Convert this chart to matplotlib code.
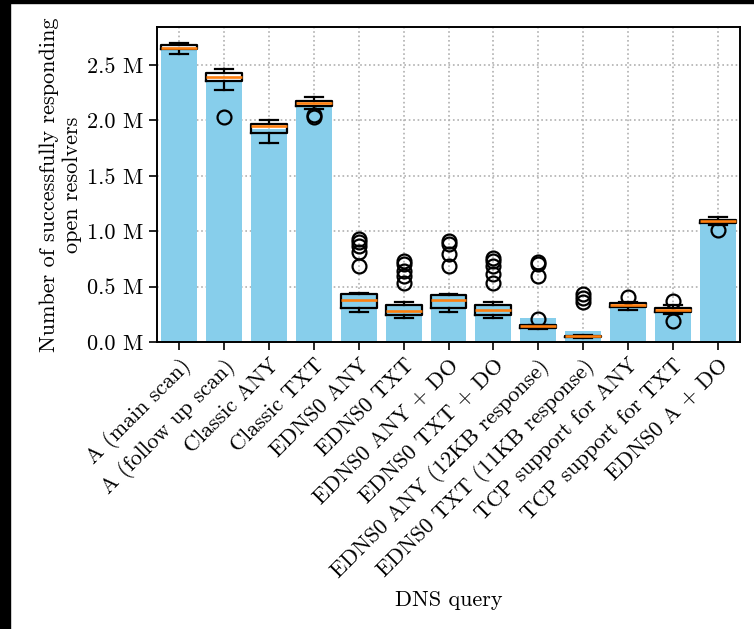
import matplotlib
matplotlib.use("Agg")
import matplotlib.pyplot as plt
from matplotlib.patches import Rectangle
from matplotlib.ticker import FuncFormatter, MultipleLocator

plt.rcParams["font.family"] = "cmr10"
plt.rcParams["mathtext.fontset"] = "cm"
plt.rcParams["axes.unicode_minus"] = False
plt.rcParams["axes.formatter.use_mathtext"] = True

# Queries and response counts (millions of open resolvers)
queries = [
    "A (main scan)", "A (follow up scan)", "Classic ANY", "Classic TXT",
    "EDNS0 ANY", "EDNS0 TXT", "EDNS0 ANY + DO", "EDNS0 TXT + DO",
    "EDNS0 ANY (12KB response)", "EDNS0 TXT (11KB response)",
    "TCP support for ANY", "TCP support for TXT", "EDNS0 A + DO",
]
mean_resp = [2.645, 2.355, 1.92, 2.13, 0.43, 0.33, 0.42, 0.33,
             0.216, 0.099, 0.32, 0.278, 1.081]
median_resp = [2.657, 2.393, 1.95, 2.153, 0.383, 0.281, 0.383, 0.287,
               0.141, 0.05, 0.332, 0.287, 1.09]
q1_resp = [2.64, 2.357, 1.886, 2.129, 0.311, 0.245, 0.311, 0.245,
           0.125, 0.042, 0.317, 0.272, 1.075]
q3_resp = [2.68, 2.43, 1.968, 2.174, 0.431, 0.335, 0.425, 0.332,
           0.152, 0.058, 0.35, 0.305, 1.105]
whisker_lo = [2.597, 2.273, 1.80, 2.10, 0.272, 0.213, 0.27, 0.213,
              0.12, 0.04, 0.29, 0.25, 1.06]
whisker_hi = [2.70, 2.462, 2.004, 2.213, 0.446, 0.357, 0.437, 0.357,
              0.155, 0.06, 0.362, 0.332, 1.126]
outliers = [
    [],
    [2.028],
    [],
    [2.05, 2.03],
    [0.93, 0.90, 0.87, 0.81, 0.69],
    [0.73, 0.707, 0.64, 0.596, 0.536],
    [0.91, 0.887, 0.79, 0.686],
    [0.76, 0.73, 0.686, 0.611, 0.536],
    [0.72, 0.70, 0.596, 0.207],
    [0.43, 0.40, 0.36],
    [0.41],
    [0.371, 0.189],
    [1.009],
]

W, H, DPI = 754, 629, 100
fig = plt.figure(figsize=(W / DPI, H / DPI), dpi=DPI)
ax = fig.add_axes([157 / W, 1 - 342 / H, (740 - 157) / W, (342 - 27) / H])

pos = list(range(len(queries)))
ax.bar(pos, mean_resp, width=0.8, color="skyblue", zorder=2)

stats = []
for i in pos:
    stats.append(dict(med=median_resp[i], q1=q1_resp[i], q3=q3_resp[i],
                      whislo=whisker_lo[i], whishi=whisker_hi[i],
                      fliers=outliers[i]))
lw = 1.6
ax.bxp(stats, positions=pos, widths=0.8, showfliers=True,
       boxprops=dict(color="black", linewidth=lw),
       whiskerprops=dict(color="black", linewidth=lw),
       capprops=dict(color="black", linewidth=lw),
       medianprops=dict(color="#ff7f0e", linewidth=1.9),
       flierprops=dict(marker="o", markersize=10, markerfacecolor="none",
                       markeredgecolor="black", markeredgewidth=1.6),
       manage_ticks=False, zorder=3)

ax.set_xlim(-0.5, len(queries) - 0.5)
ax.set_ylim(0, 2.843)
ax.yaxis.set_major_locator(MultipleLocator(0.5))
ax.yaxis.set_major_formatter(FuncFormatter(lambda v, p: f"{v:.1f} M"))
ax.set_xticks(pos)
ax.set_xticklabels(queries, rotation=45, ha="right", rotation_mode="anchor")

ax.set_axisbelow(True)
ax.grid(True, linestyle=":", color="#b0b0b0", linewidth=1.2)
for s in ax.spines.values():
    s.set_linewidth(1.4)
ax.tick_params(axis="both", labelsize=16, width=1.2, length=6)

ax.set_ylabel("Number of successfully responding\nopen resolvers", fontsize=16)
ax.set_xlabel("DNS query", fontsize=16, labelpad=6)

# dark border strips along the left and top edges
fig.patches.append(Rectangle((0, 0), 10 / W, 1, transform=fig.transFigure,
                             color="black", zorder=-1))
fig.patches.append(Rectangle((0, 1 - 3 / H), 1, 3 / H, transform=fig.transFigure,
                             color="black", zorder=-1))

fig.savefig("out.png", dpi=DPI)
